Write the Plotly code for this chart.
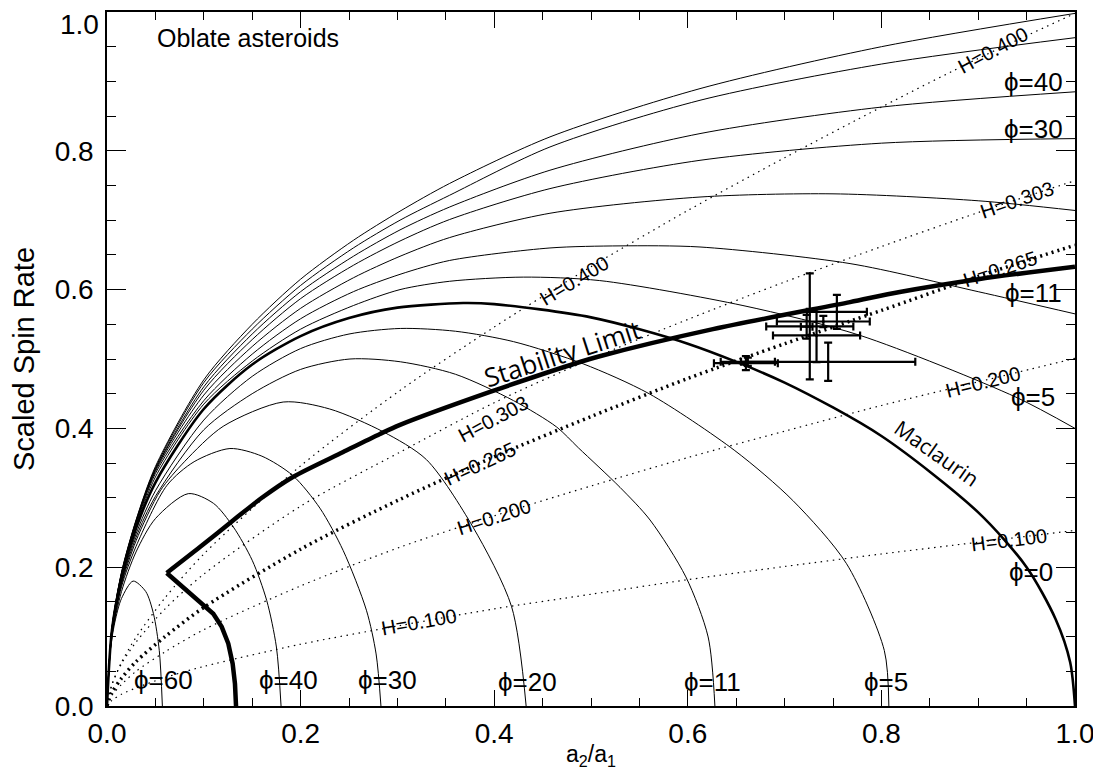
import plotly.graph_objects as go

# ---------------- data ----------------
# Maclaurin sequence (thick)
mac_x = [0, 0.005, 0.015, 0.03, 0.05, 0.1, 0.15, 0.2, 0.25, 0.3, 0.368, 0.4, 0.5, 0.6, 0.7, 0.8, 0.9, 0.95, 0.98, 0.995, 1.0]
mac_y = [0, 0.108, 0.185, 0.256, 0.322, 0.428, 0.492, 0.533, 0.559, 0.574, 0.5806, 0.579, 0.560, 0.522, 0.466, 0.389, 0.279, 0.200, 0.125, 0.063, 0.0]

# upper branches of the friction-angle curves (end on right edge)
up_x = [0, 0.005, 0.015, 0.03, 0.05, 0.1, 0.15, 0.2, 0.2545, 0.3027, 0.354, 0.4576, 0.6126, 0.8, 1.0]
up90 = [0, 0.112, 0.193, 0.268, 0.345, 0.470, 0.550, 0.615, 0.671, 0.713, 0.753, 0.820, 0.8896, 0.950, 0.998]
up60 = [0, 0.111, 0.192, 0.267, 0.343, 0.466, 0.543, 0.606, 0.660, 0.700, 0.736, 0.8055, 0.8728, 0.925, 0.963]
up40 = [0, 0.111, 0.191, 0.266, 0.341, 0.460, 0.536, 0.597, 0.648, 0.686, 0.719, 0.772, 0.8248, 0.863, 0.885]
up30 = [0, 0.110, 0.190, 0.265, 0.340, 0.455, 0.528, 0.587, 0.635, 0.670, 0.701, 0.7455, 0.7863, 0.811, 0.8176]
up20_x = [0, 0.005, 0.015, 0.03, 0.05, 0.1, 0.15, 0.2, 0.2545, 0.3027, 0.354, 0.4576, 0.6126, 0.75, 0.9, 1.0]
up20 = [0, 0.110, 0.189, 0.263, 0.338, 0.448, 0.518, 0.573, 0.617, 0.648, 0.675, 0.710, 0.7334, 0.738, 0.728, 0.714]
up11_x = [0, 0.005, 0.015, 0.03, 0.05, 0.1, 0.15, 0.2, 0.2545, 0.3027, 0.354, 0.4576, 0.53, 0.6126, 0.7676, 0.9, 1.0]
up11 = [0, 0.109, 0.188, 0.261, 0.335, 0.440, 0.507, 0.558, 0.597, 0.622, 0.642, 0.660, 0.663, 0.6614, 0.6375, 0.597, 0.565]
up5_x = [0, 0.005, 0.015, 0.03, 0.05, 0.1, 0.15, 0.2, 0.2545, 0.3027, 0.354, 0.43, 0.509, 0.657, 0.778, 0.939, 1.0]
up5 = [0, 0.109, 0.187, 0.259, 0.330, 0.435, 0.497, 0.543, 0.577, 0.600, 0.612, 0.618, 0.613, 0.577, 0.534, 0.445, 0.400]

# lower branches (close on the x axis)
lo60_x = [0, 0.003, 0.008, 0.015, 0.027, 0.040, 0.048, 0.054, 0.0572]
lo60_y = [0, 0.075, 0.120, 0.155, 0.180, 0.165, 0.133, 0.080, 0.0]
lo40_x = [0, 0.005, 0.015, 0.03, 0.05, 0.084, 0.11, 0.1305, 0.15, 0.165, 0.175, 0.1798]
lo40_y = [0, 0.100, 0.165, 0.222, 0.270, 0.306, 0.292, 0.258, 0.210, 0.152, 0.085, 0.0]
lo30_x = [0, 0.005, 0.015, 0.03, 0.062, 0.09, 0.127, 0.16, 0.192, 0.22, 0.244, 0.268, 0.278, 0.283]
lo30_y = [0, 0.102, 0.172, 0.230, 0.318, 0.352, 0.371, 0.360, 0.332, 0.285, 0.224, 0.138, 0.075, 0.0]
lo20_x = [0, 0.005, 0.015, 0.03, 0.055, 0.08, 0.12, 0.182, 0.23, 0.2855, 0.33, 0.378, 0.418, 0.433]
lo20_y = [0, 0.103, 0.175, 0.238, 0.310, 0.352, 0.403, 0.438, 0.428, 0.395, 0.355, 0.258, 0.143, 0.0]
lo11_x = [0, 0.005, 0.015, 0.03, 0.05, 0.1, 0.15, 0.2, 0.251, 0.303, 0.36, 0.42, 0.4645, 0.487, 0.53, 0.561, 0.598, 0.621, 0.628]
lo11_y = [0, 0.104, 0.178, 0.243, 0.302, 0.398, 0.450, 0.485, 0.500, 0.496, 0.478, 0.440, 0.402, 0.372, 0.315, 0.268, 0.186, 0.0995, 0.0]
lo5_x = [0, 0.005, 0.015, 0.03, 0.05, 0.1, 0.15, 0.2, 0.25, 0.303, 0.36, 0.42, 0.492, 0.56, 0.6486, 0.7086, 0.764, 0.803, 0.8077]
lo5_y = [0, 0.105, 0.180, 0.248, 0.310, 0.412, 0.475, 0.515, 0.536, 0.544, 0.540, 0.525, 0.493, 0.450, 0.368, 0.296, 0.205, 0.080, 0.0]

# stability limit (thickest): lower straight part, then smooth upper part
sl_lo_x = [0.1333, 0.1322, 0.1298, 0.1253, 0.1185, 0.1098, 0.0617]
sl_lo_y = [0.0, 0.032, 0.061, 0.090, 0.114, 0.133, 0.1917]
sl_up_x = [0.0617, 0.096, 0.1305, 0.16, 0.192, 0.244, 0.282, 0.3027, 0.3957, 0.4886, 0.509, 0.626, 0.7676, 0.819, 0.9, 1.0]
sl_up_y = [0.1917, 0.229, 0.2676, 0.300, 0.330, 0.366, 0.392, 0.405, 0.4525, 0.4957, 0.504, 0.543, 0.582, 0.5966, 0.615, 0.633]

# constant-H dotted curves
h_x = [0, 0.005, 0.015, 0.03, 0.06, 0.1, 0.2, 0.303, 0.4, 0.5, 0.6, 0.7, 0.8, 0.9, 1.0]
h400 = [0, 0.030, 0.063, 0.099, 0.156, 0.219, 0.346, 0.455, 0.546, 0.633, 0.714, 0.790, 0.863, 0.933, 0.998]
h303 = [0, 0.031, 0.061, 0.092, 0.140, 0.190, 0.288, 0.366, 0.437, 0.500, 0.557, 0.611, 0.662, 0.711, 0.757]
h265 = [0, 0.019, 0.040, 0.064, 0.100, 0.142, 0.226, 0.298, 0.359, 0.417, 0.472, 0.522, 0.570, 0.619, 0.664]
h200 = [0, 0.015, 0.031, 0.050, 0.078, 0.110, 0.173, 0.229, 0.274, 0.317, 0.358, 0.396, 0.433, 0.467, 0.501]
h100 = [0, 0.008, 0.017, 0.026, 0.041, 0.057, 0.089, 0.116, 0.140, 0.161, 0.182, 0.201, 0.219, 0.236, 0.253]

# asteroid data points with error bars
pt_x = [0.726, 0.754, 0.745, 0.733, 0.740, 0.660, 0.662, 0.7228]
pt_y = [0.547, 0.568, 0.496, 0.534, 0.554, 0.494, 0.496, 0.5465]
pt_ex = [0.045, 0.031, 0.090, 0.045, 0.048, 0.033, 0.028, 0.006]
pt_ey = [0.0765, 0.0245, 0.0275, 0.0385, 0.008, 0.010, 0.006, 0.017]

# labels
h_labels = ["H=0.400", "H=0.303", "H=0.265", "H=0.200", "H=0.100",
            "H=0.400", "H=0.303", "H=0.265", "H=0.200", "H=0.100"]
h_lab_x = [0.482, 0.399, 0.385, 0.400, 0.322, 0.9156, 0.940, 0.9225, 0.905, 0.932]
h_lab_y = [0.613, 0.414, 0.349, 0.272, 0.121, 0.945, 0.729, 0.630, 0.467, 0.239]
h_lab_ang = [-31, -28, -25, -18, -10, -28, -19, -18, -14, -7]

phi_labels = ["ϕ=40", "ϕ=30", "ϕ=11", "ϕ=5", "ϕ=0",
              "ϕ=60", "ϕ=40", "ϕ=30", "ϕ=20", "ϕ=11", "ϕ=5"]
phi_x = [0.957, 0.957, 0.957, 0.957, 0.955, 0.058, 0.187, 0.290, 0.434, 0.6255, 0.805]
phi_y = [0.899, 0.832, 0.595, 0.445, 0.193, 0.037, 0.037, 0.037, 0.035, 0.035, 0.035]

x_ticks = [0.0, 0.2, 0.4, 0.6, 0.8, 1.0]
x_ticktext = ["0.0", "0.2", "0.4", "0.6", "0.8", "1.0"]
y_ticks = [0.0, 0.2, 0.4, 0.6, 0.8, 1.0]
y_ticktext = ["0.0", "0.2", "0.4", "0.6", "0.8", ""]
y_top_label = "1.0"

# ---------------- figure ----------------
fig = go.Figure()

def curve(x, y, width=1.0, dash="solid", shape="spline"):
    fig.add_trace(go.Scatter(x=x, y=y, mode="lines",
                             line=dict(color="black", width=width, dash=dash,
                                       shape=shape, smoothing=0.8),
                             hoverinfo="skip", showlegend=False))

for ys in [up90, up60, up40, up30]:
    curve(up_x, ys)
curve(up20_x, up20)
curve(up11_x, up11)
curve(up5_x, up5)
curve(lo60_x, lo60_y)
curve(lo40_x, lo40_y)
curve(lo30_x, lo30_y)
curve(lo20_x, lo20_y)
curve(lo11_x, lo11_y)
curve(lo5_x, lo5_y)

for hy in [h400, h303, h200, h100]:
    curve(h_x, hy, width=1.2, dash="1.5px,4.5px")
curve(h_x, h265, width=3.5, dash="2px,4px")

curve(mac_x, mac_y, width=2.6)

curve(sl_lo_x, sl_lo_y, width=4.5, shape="linear")
curve(sl_up_x, sl_up_y, width=4.5)

fig.add_trace(go.Scatter(x=pt_x, y=pt_y, mode="markers",
                         marker=dict(color="black", size=3),
                         error_x=dict(type="data", array=pt_ex, color="black", thickness=2.2, width=4),
                         error_y=dict(type="data", array=pt_ey, color="black", thickness=2.2, width=4),
                         hoverinfo="skip", showlegend=False))

ann = []
for t, x, y, a in zip(h_labels, h_lab_x, h_lab_y, h_lab_ang):
    ann.append(dict(x=x, y=y, xref="x", yref="y", text=t, showarrow=False,
                    textangle=a, font=dict(family="Liberation Sans, Arial", size=20, color="black")))
for t, x, y in zip(phi_labels, phi_x, phi_y):
    ann.append(dict(x=x, y=y, xref="x", yref="y", text=t, showarrow=False,
                    font=dict(family="Liberation Sans, DejaVu Sans", size=26, color="black")))
ann.append(dict(x=0.0496, y=0.962, xref="x", yref="y", text="Oblate asteroids", showarrow=False,
                xanchor="left", font=dict(family="Liberation Sans, Arial", size=25, color="black")))
ann.append(dict(x=0.471, y=0.508, xref="x", yref="y", text="Stability Limit", showarrow=False,
                textangle=-18, font=dict(family="Open Sans", size=26, color="black")))
ann.append(dict(x=0.857, y=0.364, xref="x", yref="y", text="Maclaurin", showarrow=False,
                textangle=35, font=dict(family="Open Sans", size=21, color="black")))
# top y tick label (drawn just inside the page, as in the reference)
ann.append(dict(x=0, y=1, xref="paper", yref="paper", text=y_top_label, showarrow=False,
                xanchor="right", yanchor="top", xshift=-7, yshift=4, borderpad=0,
                font=dict(family="Liberation Sans, Arial", size=28, color="black")))
# x axis title
ann.append(dict(x=0.5, y=0, xref="paper", yref="paper", text="a<sub>2</sub>/a<sub>1</sub>",
                showarrow=False, xanchor="center", yanchor="top", yshift=-34, borderpad=0,
                font=dict(family="Liberation Sans, Arial", size=23, color="black")))

axis_common = dict(range=[0, 1], showgrid=False, zeroline=False, showline=True,
                   linecolor="black", linewidth=1.5, mirror="ticks", ticks="inside",
                   tickcolor="black", tickwidth=1.3, ticklabeloverflow="allow",
                   automargin=False,
                   tickfont=dict(family="Liberation Sans, Arial", size=28, color="black"))

# page body has an 8px margin, so the figure is sized/offset to put the plot
# area where the reference has it (x: 107..1075, y: 12..706 in the window)
fig.update_layout(
    width=1093, height=762,
    margin=dict(l=99, r=26, t=4, b=64),
    paper_bgcolor="white", plot_bgcolor="white",
    annotations=ann,
    xaxis=dict(axis_common, tickvals=x_ticks, ticktext=x_ticktext, ticklen=16,
               minor=dict(dtick=0.05, ticks="inside", ticklen=8, tickcolor="black", tickwidth=1.3),
               ticklabelstandoff=2),
    yaxis=dict(axis_common, tickvals=y_ticks, ticktext=y_ticktext, ticklen=19,
               minor=dict(dtick=0.05, ticks="inside", ticklen=9, tickcolor="black", tickwidth=1.3),
               ticklabelstandoff=6,
               title=dict(text="Scaled Spin Rate", standoff=15,
                          font=dict(family="Liberation Sans, Arial", size=29, color="black"))),
)

fig.write_html("out.html")
